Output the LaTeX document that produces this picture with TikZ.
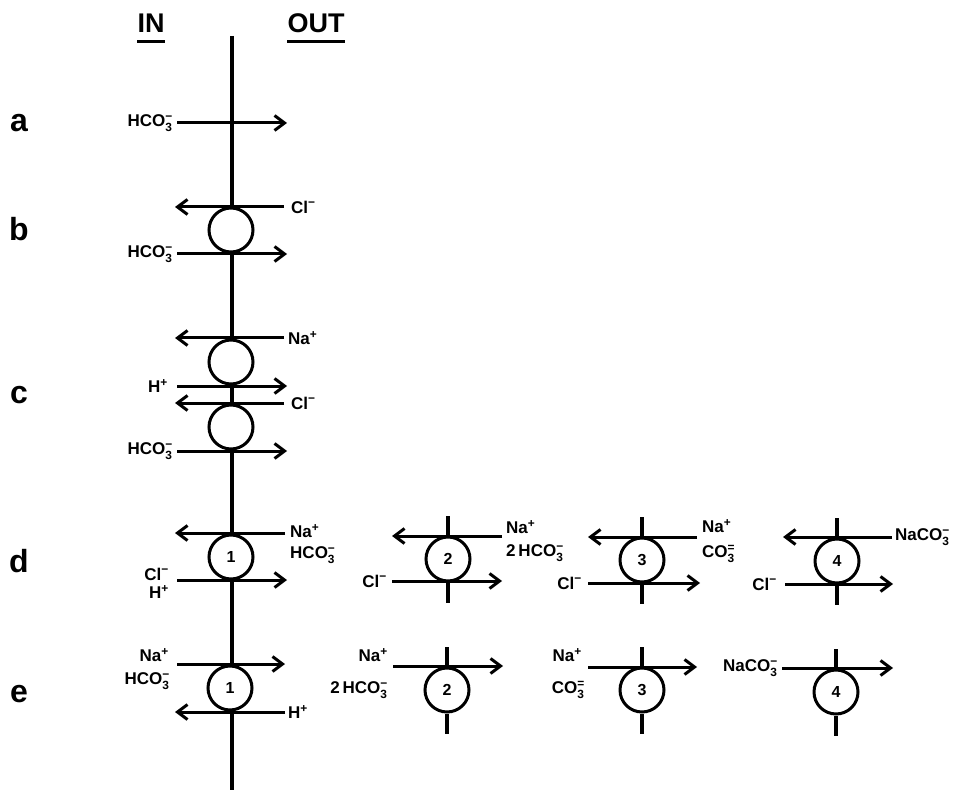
\documentclass[tikz,border=0pt]{standalone}
\usepackage{amsmath}
\usepackage{fontspec}
\setmainfont{Liberation Sans}
\usetikzlibrary{arrows.meta,positioning}

\newcommand{\ionsub}[2]{\ensuremath{^{\text{#2}}_{\text{#1}}}}
\newcommand{\hcoion}{HCO\ionsub{3}{−}}
\newcommand{\coion}{CO\ionsub{3}{=}}
\newcommand{\nacoion}{NaCO\ionsub{3}{−}}
\newcommand{\naion}{Na\textsuperscript{+}}
\newcommand{\clion}{Cl\textsuperscript{−}}
\newcommand{\hion}{H\textsuperscript{+}}

\begin{document}
\begin{tikzpicture}[
	x=1pt, y=-1pt,
	membrane/.style={ line width=3.2pt },
	flux/.style={ line width=3pt, -{Straight Barb[length=10pt,width=15pt]} },
	carrier/.style={ circle, draw, line width=3pt, fill=white, minimum size=44pt, inner sep=0pt, font=\fontsize{16}{16}\selectfont\bfseries },
	ion/.style={ inner sep=1pt, font=\fontsize{17}{19}\selectfont\bfseries },
	row/.style={ inner sep=0pt, anchor=base, font=\fontsize{32}{32}\selectfont\bfseries },
	side/.style={ inner sep=0pt, font=\fontsize{27}{27}\selectfont\bfseries }
]
\useasboundingbox (0,0) rectangle (958,791);

% membrane and headings
\coordinate (mtop) at (232,36);
\coordinate (mbot) at (232,790);
\draw[membrane] (mtop) -- (mbot);
\node at (151,23) (in) [side] {IN};
\node at (316,23) (out) [side] {OUT};
\draw[membrane] ([yshift=-9pt]in.south west) -- ([yshift=-9pt]in.south east);
\draw[membrane] ([yshift=-9pt]out.south west) -- ([yshift=-9pt]out.south east);

\node at (19,132) (ra) [row] {a};
\node at (19,241) (rb) [row] {b};
\node at (19,403) (rc) [row] {c};
\node at (19,572) (rd) [row] {d};
\node at (19,702) (re) [row] {e};

% a
\coordinate (a1s) at (177,123);
\coordinate (a1e) at (287,123);
\draw[flux] (a1s) -- (a1e);
\node (a1hco) [ion, left=3pt of a1s] {\hcoion};

% b
\node at (231,230) (b1) [carrier] {};
\coordinate (b1ts) at (284,207);
\coordinate (b1te) at (175,207);
\coordinate (b1bs) at (177,254);
\coordinate (b1be) at (287,254);
\draw[flux] (b1ts) -- (b1te);
\draw[flux] (b1bs) -- (b1be);
\node (b1cl) [ion, right=6pt of b1ts] {\clion};
\node (b1hco) [ion, left=3pt of b1bs] {\hcoion};

% c
\node at (231,362) (c1) [carrier] {};
\node at (231,427) (c2) [carrier] {};
\coordinate (c1ts) at (284,338);
\coordinate (c1te) at (175,338);
\coordinate (c1bs) at (177,386);
\coordinate (c1be) at (287,386);
\coordinate (c2ts) at (284,403);
\coordinate (c2te) at (175,403);
\coordinate (c2bs) at (177,451);
\coordinate (c2be) at (287,451);
\draw[flux] (c1ts) -- (c1te);
\draw[flux] (c1bs) -- (c1be);
\draw[flux] (c2ts) -- (c2te);
\draw[flux] (c2bs) -- (c2be);
\node (c1na) [ion, right=3pt of c1ts] {\naion};
\node (c1h) [ion, left=8pt of c1bs] {\hion};
\node (c2cl) [ion, right=6pt of c2ts] {\clion};
\node (c2hco) [ion, left=3pt of c2bs] {\hcoion};

% d
\node at (231,557) (d1) [carrier] {1};
\node at (448,559) (d2) [carrier] {2};
\node at (642,560) (d3) [carrier] {3};
\node at (837,561) (d4) [carrier] {4};
\coordinate (d1ts) at (285,533);
\coordinate (d1te) at (175,533);
\coordinate (d1bs) at (177,580);
\coordinate (d1be) at (287,580);
\coordinate (d2ts) at (502,536);
\coordinate (d2te) at (392,536);
\coordinate (d2bs) at (392,581);
\coordinate (d2be) at (502,581);
\coordinate (d3ts) at (697,537);
\coordinate (d3te) at (588,537);
\coordinate (d3bs) at (588,583);
\coordinate (d3be) at (700,583);
\coordinate (d4ts) at (892,537);
\coordinate (d4te) at (783,537);
\coordinate (d4bs) at (785,584);
\coordinate (d4be) at (893,584);
\foreach \t in {d1,d2,d3,d4} {
	\draw[flux] (\t ts) -- (\t te);
	\draw[flux] (\t bs) -- (\t be);
}
\node at (289,531) (d1na) [ion, anchor=west] {\naion};
\node at (289,555) (d1hco) [ion, anchor=west] {\hcoion};
\node at (170,574) (d1cl) [ion, anchor=east] {\clion};
\node at (170,592) (d1h) [ion, anchor=east] {\hion};
\node at (505,527) (d2na) [ion, anchor=west] {\naion};
\node at (505,553) (d2hco) [ion, anchor=west] {2\,\hcoion};
\node (d2cl) [ion, left=4pt of d2bs] {\clion};
\node at (701,526) (d3na) [ion, anchor=west] {\naion};
\node at (701,554) (d3co) [ion, anchor=west] {\coion};
\node (d3cl) [ion, left=5pt of d3bs] {\clion};
\node (d4naco) [ion, right=2pt of d4ts] {\nacoion};
\node (d4cl) [ion, left=7pt of d4bs] {\clion};

% e
\node at (230,688) (e1) [carrier] {1};
\node at (447,690) (e2) [carrier] {2};
\node at (642,690) (e3) [carrier] {3};
\node at (836,692) (e4) [carrier] {4};
\coordinate (e1ts) at (177,664);
\coordinate (e1te) at (285,664);
\coordinate (e1bs) at (285,712);
\coordinate (e1be) at (175,712);
\coordinate (e2ts) at (393,666);
\coordinate (e2te) at (503,666);
\coordinate (e3ts) at (588,667);
\coordinate (e3te) at (697,667);
\coordinate (e4ts) at (782,668);
\coordinate (e4te) at (893,668);
\foreach \t in {e1,e2,e3,e4} {
	\draw[flux] (\t ts) -- (\t te);
}
\draw[flux] (e1bs) -- (e1be);
\node at (170,655) (e1na) [ion, anchor=east] {\naion};
\node at (171,681) (e1hco) [ion, anchor=east] {\hcoion};
\node (e1h) [ion, right=2pt of e1bs] {\hion};
\node at (389,655) (e2na) [ion, anchor=east] {\naion};
\node at (389,690) (e2hco) [ion, anchor=east] {2\,\hcoion};
\node at (583,655) (e3na) [ion, anchor=east] {\naion};
\node at (586,690) (e3co) [ion, anchor=east] {\coion};
\node (e4naco) [ion, left=3pt of e4ts] {\nacoion};

% stubs of membrane round the lone carriers
\foreach \t in {d2,d3,d4,e2,e3,e4} {
	\draw[membrane] (\t.north) -- ++(0,-20);
	\draw[membrane] (\t.south) -- ++(0,20);
}

\end{tikzpicture}
\end{document}
